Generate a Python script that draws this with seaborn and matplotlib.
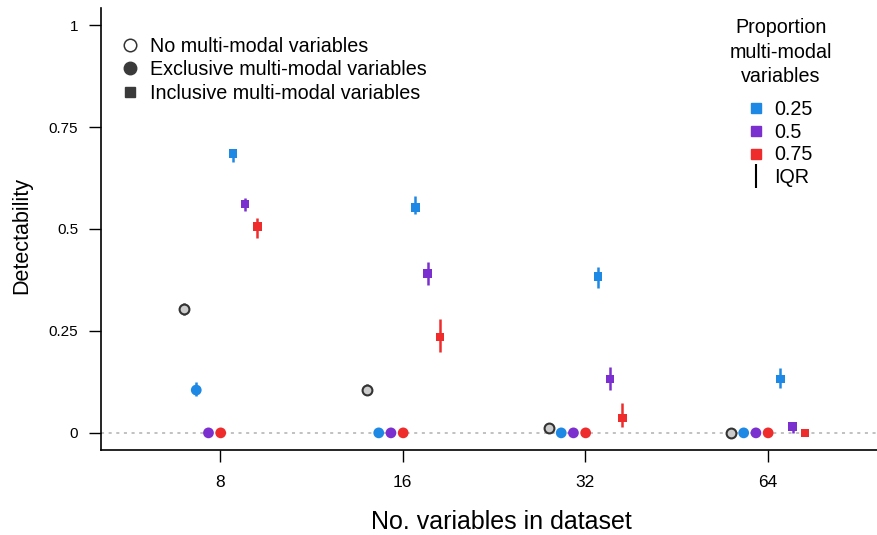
import numpy as np
import pandas as pd
import matplotlib
matplotlib.use("Agg")
import matplotlib.pyplot as plt
from matplotlib.lines import Line2D
import seaborn as sns

# ---------------- data ----------------
n_vars = ["8", "16", "32", "64"]
series = ["none", "excl_0.25", "excl_0.5", "excl_0.75", "incl_0.25", "incl_0.5", "incl_0.75"]
kinds = ["none", "excl", "excl", "excl", "incl", "incl", "incl"]
props = ["none", "0.25", "0.5", "0.75", "0.25", "0.5", "0.75"]

# medians, per series, per n_vars group (8, 16, 32, 64)
median = {
    "none":      [0.305, 0.105, 0.013, 0.0],
    "excl_0.25": [0.105, 0.0, 0.0, 0.0],
    "excl_0.5":  [0.0, 0.0, 0.0, 0.0],
    "excl_0.75": [0.0, 0.0, 0.0, 0.0],
    "incl_0.25": [0.685, 0.553, 0.383, 0.132],
    "incl_0.5":  [0.561, 0.391, 0.132, 0.015],
    "incl_0.75": [0.506, 0.235, 0.037, 0.0],
}
q25 = {
    "none":      [0.290, 0.097, 0.008, 0.0],
    "excl_0.25": [0.090, 0.0, 0.0, 0.0],
    "excl_0.5":  [0.0, 0.0, 0.0, 0.0],
    "excl_0.75": [0.0, 0.0, 0.0, 0.0],
    "incl_0.25": [0.665, 0.536, 0.355, 0.110],
    "incl_0.5":  [0.545, 0.362, 0.105, 0.0],
    "incl_0.75": [0.477, 0.198, 0.015, 0.0],
}
q75 = {
    "none":      [0.318, 0.120, 0.016, 0.0],
    "excl_0.25": [0.125, 0.0, 0.0, 0.0],
    "excl_0.5":  [0.0, 0.0, 0.0, 0.0],
    "excl_0.75": [0.0, 0.0, 0.0, 0.0],
    "incl_0.25": [0.697, 0.580, 0.406, 0.159],
    "incl_0.5":  [0.577, 0.418, 0.161, 0.027],
    "incl_0.75": [0.526, 0.279, 0.073, 0.0],
}

prop_colors = {"none": "#cccccc", "0.25": "#1e88e5", "0.5": "#7b2fcf", "0.75": "#ee2c2c"}
err_colors = {"none": "#333333", "0.25": "#1e88e5", "0.5": "#7b2fcf", "0.75": "#ee2c2c"}

rows = []
for k, s in enumerate(series):
    for g, nv in enumerate(n_vars):
        rows.append(dict(series=s, kind=kinds[k], prop=props[k], group=g, k=k,
                         median=median[s][g], lo=q25[s][g], hi=q75[s][g]))
df = pd.DataFrame(rows)
dodge = 0.067
df["x"] = df["group"] + (df["k"] - 3) * dodge + 0.003

# ---------------- figure ----------------
sns.set_theme(style="white")
plt.rcParams["font.family"] = ["Liberation Sans", "DejaVu Sans"]
plt.rcParams["text.color"] = "black"
plt.rcParams["axes.labelcolor"] = "black"
plt.rcParams["xtick.color"] = "black"
plt.rcParams["ytick.color"] = "black"

fig = plt.figure(figsize=(8.78, 5.35), dpi=100)
ax = fig.add_axes([101 / 878, 85 / 535, 1 - 101 / 878, (450 - 8) / 535])

ax.axhline(0, color="#b0b0b0", lw=1.1, ls=(0, (2, 3)), zorder=0)

# IQR bars
for p in ["none", "0.25", "0.5", "0.75"]:
    sub = df[df["prop"] == p]
    ax.vlines(sub["x"], sub["lo"], sub["hi"], color=err_colors[p], lw=1.8, zorder=2)

# markers
none_df = df[df["kind"] == "none"]
sns.scatterplot(data=none_df, x="x", y="median", ax=ax, marker="o", s=50,
                color="#cccccc", edgecolor="#333333", linewidth=1.5, zorder=3, legend=False)
excl_df = df[df["kind"] == "excl"]
sns.scatterplot(data=excl_df, x="x", y="median", hue="prop", palette=prop_colors,
                ax=ax, marker="o", s=60, edgecolor="none", zorder=3, legend=False)
incl_df = df[df["kind"] == "incl"]
sns.scatterplot(data=incl_df, x="x", y="median", hue="prop", palette=prop_colors,
                ax=ax, marker="s", s=38, edgecolor="none", zorder=3, legend=False)

ax.set_xlim(-0.653, 3.605)
ax.set_ylim(-0.042, 1.042)
ax.set_xticks(range(len(n_vars)))
ax.set_xticklabels(n_vars)
ax.set_yticks([0, 0.25, 0.5, 0.75, 1])
ax.set_yticklabels(["0", "0.25", "0.5", "0.75", "1"])

for side in ["top", "right"]:
    ax.spines[side].set_visible(False)
for side in ["left", "bottom"]:
    ax.spines[side].set_color("black")
    ax.spines[side].set_linewidth(1.2)

ax.tick_params(axis="both", which="major", direction="out", length=8.5, width=1.0,
               color="black", left=True, bottom=True)
ax.tick_params(axis="y", labelsize=11, pad=8)
ax.tick_params(axis="x", labelsize=12.5, pad=9.5)
ax.set_xlabel("No. variables in dataset", fontsize=18, labelpad=16)
ax.set_ylabel("Detectability", fontsize=15.5, labelpad=11.5)
ax.xaxis.set_label_coords(0.5155, -0.1)
ax.xaxis.label.set_va("center")
ax.xaxis.set_label_coords(0.5155, (450 - 522) / 442)
ax.yaxis.label.set_va("center")
ax.yaxis.set_label_coords((22 - 101) / 777, (450 - 235.5) / 442)

# legend: variable type
h1 = [
    Line2D([], [], ls="none", marker="o", markersize=9, markerfacecolor="white",
           markeredgecolor="#333333", markeredgewidth=1.1),
    Line2D([], [], ls="none", marker="o", markersize=9, markerfacecolor="#3a3a3a",
           markeredgecolor="#3a3a3a"),
    Line2D([], [], ls="none", marker="s", markersize=7.5, markerfacecolor="#3a3a3a",
           markeredgecolor="#3a3a3a"),
]
l1 = ["No multi-modal variables", "Exclusive multi-modal variables",
      "Inclusive multi-modal variables"]
leg1 = fig.legend(h1, l1, loc="upper left", bbox_to_anchor=(120.5 / 878, 1 - 37 / 535),
                  frameon=False, fontsize=14.2, handlelength=0.95, handletextpad=0.55,
                  labelspacing=0.22, borderaxespad=0, borderpad=0)

# legend: proportion
h2 = [Line2D([], [], ls="none", marker="s", markersize=7.5, markerfacecolor=prop_colors[p],
             markeredgecolor=prop_colors[p]) for p in ["0.25", "0.5", "0.75"]]
h2.append(Line2D([], [], ls="none", marker="|", markersize=17, markeredgewidth=1.5,
                 color="black"))
l2 = ["0.25", "0.5", "0.75", "IQR"]
leg2 = fig.legend(h2, l2, loc="upper left", bbox_to_anchor=(747 / 878, 1 - 100 / 535),
                  frameon=False, fontsize=14.2, handlelength=0.95, handletextpad=0.42,
                  labelspacing=0.19, borderaxespad=0, borderpad=0)
fig.text(781 / 878, 1 - 52 / 535, "Proportion\nmulti-modal\nvariables", ha="center",
         va="center", fontsize=14.2, linespacing=1.36)

fig.savefig("out.png", dpi=100)
